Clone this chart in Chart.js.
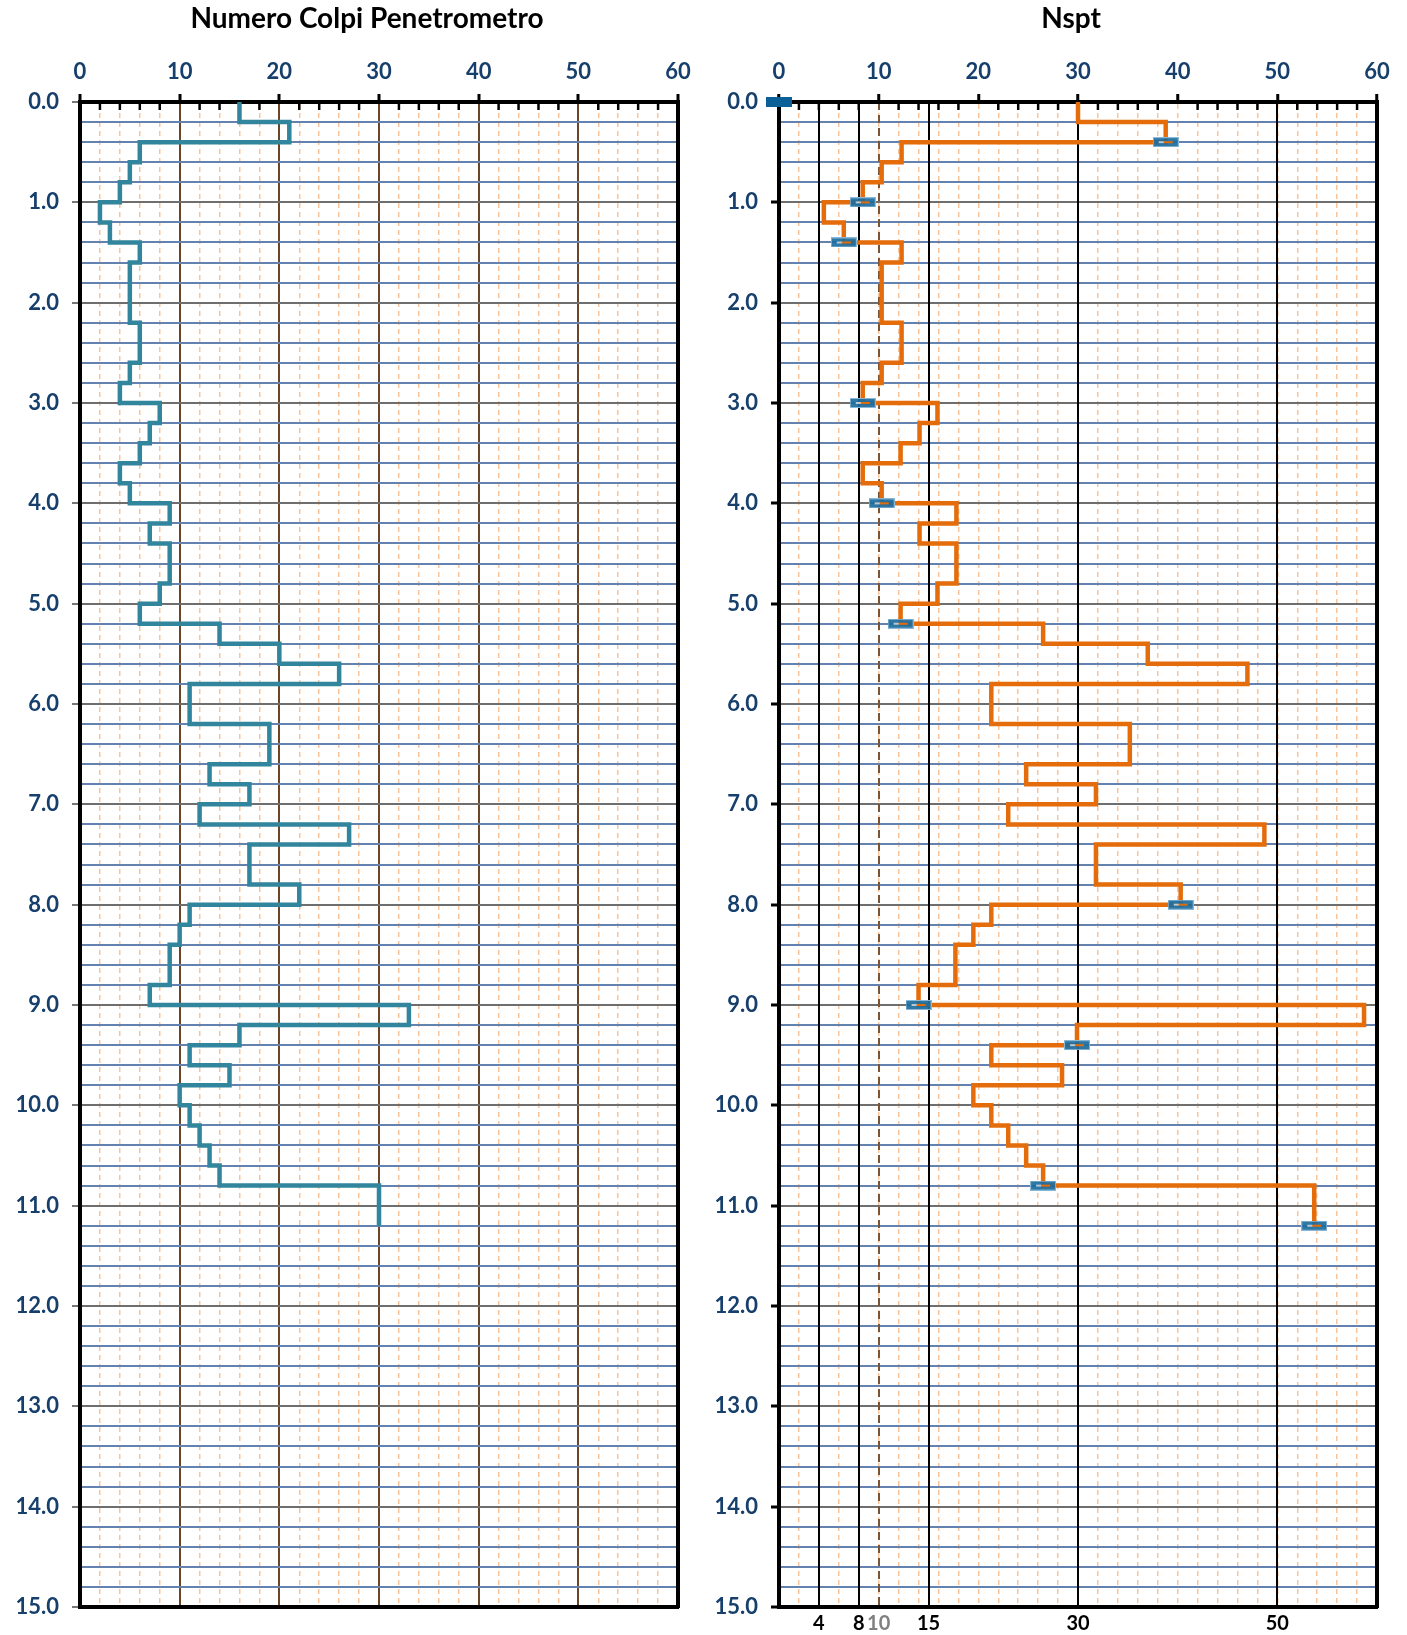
<!DOCTYPE html>
<html>
<head>
<meta charset="utf-8">
<script src="https://cdn.jsdelivr.net/npm/chart.js@4.4.0/dist/chart.umd.min.js"></script>
<style>
  html, body { margin: 0; padding: 0; background: #fff; overflow: hidden; }
  #wrap { position: relative; width: 1407px; height: 1635px; overflow: hidden; }
  #c1 { position: absolute; left: 0; top: 0; }
  #c2 { position: absolute; left: 700px; top: 0; }
</style>
</head>
<body>
<div id="wrap">
  <canvas id="c1" width="734" height="1635"></canvas>
  <canvas id="c2" width="742" height="1635"></canvas>
</div>
<script>
// depth boundaries (m) of each 20 cm reading
const depths = [0.0,0.2,0.4,0.6,0.8,1.0,1.2,1.4,1.6,1.8,2.0,2.2,2.4,2.6,2.8,3.0,3.2,3.4,3.6,3.8,
  4.0,4.2,4.4,4.6,4.8,5.0,5.2,5.4,5.6,5.8,6.0,6.2,6.4,6.6,6.8,7.0,7.2,7.4,7.6,7.8,
  8.0,8.2,8.4,8.6,8.8,9.0,9.2,9.4,9.6,9.8,10.0,10.2,10.4,10.6,10.8,11.0,11.2];

// numero colpi penetrometro per 20 cm
const colpi = [16,21,6,5,4,2,3,6,5,5,5,6,6,5,4,
  8,7,6,4,5,9,7,9,9,8,6,
  14,20,26,11,11,19,19,13,17,12,
  27,17,17,22,11,10,9,9,7,
  33,16,11,15,10,11,12,13,14,30,30];

// Nspt equivalente
const nspt = [30,38.8,12.3,10.3,8.4,4.5,6.5,12.3,10.3,10.3,10.3,12.3,12.3,10.3,8.4,
  15.9,14.1,12.2,8.4,10.3,17.8,14.1,17.8,17.8,15.9,12.2,
  26.5,37.0,47.0,21.3,21.3,35.2,35.2,24.8,31.8,23.0,
  48.7,31.8,31.8,40.3,21.3,19.5,17.7,17.7,14.0,
  58.7,29.9,21.3,28.4,19.5,21.3,23.0,24.8,26.5,53.7,53.7];

// markers on the Nspt profile
const sptDepths = [0.4,1.0,1.4,3.0,4.0,5.2,8.0,9.0,9.4,10.8,11.2];
const sptValues = [38.8,8.4,6.5,8.4,10.3,12.2,40.3,14.0,29.9,26.5,53.7];
const refDepths = [0.0];
const refValues = [0];

// axes
const xTicks = [0,2,4,6,8,10,12,14,16,18,20,22,24,26,28,30,32,34,36,38,40,42,44,46,48,50,52,54,56,58,60];
const depthTicks = Array.from({length: 76}, (_, i) => i / 5);
const nsptLines = [4,8,10,15,30,50];

const FONT = 'Lato';
const NAVY = '#173F6C';
const TITLE_SIZE = 28;
const TITLE_H = TITLE_SIZE * 1.2 + 2;
const CLEAR = 'rgba(0,0,0,0)';
const BOTTOM_H = 28;

function stepPoints(vals) {
  const pts = [];
  vals.forEach((v, i) => {
    pts.push({x: v, y: depths[i]});
    pts.push({x: v, y: depths[i + 1]});
  });
  return pts;
}

function makeMarker(solid) {
  const c = document.createElement('canvas');
  c.width = 26; c.height = 10;
  const g = c.getContext('2d');
  if (solid) {
    g.fillStyle = '#0b6097';
    g.fillRect(0, 0, 26, 10);
  } else {
    g.fillStyle = 'rgba(28,108,158,0.92)';
    g.fillRect(0, 0, 26, 10);
    g.strokeStyle = 'rgba(150,190,220,0.9)';
    g.lineWidth = 1;
    g.strokeRect(0.5, 0.5, 25, 9);
    g.fillStyle = '#b9c7d3';
    g.fillRect(6, 4, 6, 2);
    g.fillStyle = '#e36c0a';
    g.fillRect(11, 4, 9, 2);
  }
  return c;
}

const isMajor = c => c.tick && c.tick.value % 10 === 0;
const isInt = c => c.tick && Number.isInteger(c.tick.value);

function topAxis(majorColor) {
  return {
    type: 'linear', position: 'top', min: 0, max: 60,
    afterBuildTicks: s => { s.ticks = xTicks.map(v => ({value: v})); },
    ticks: {
      autoSkip: false, maxRotation: 0, minRotation: 0, padding: 9,
      color: NAVY, font: {family: FONT, weight: 'bold', size: 22},
      callback: v => v % 10 === 0 ? String(v) : ''
    },
    grid: {
      color: c => (majorColor && isMajor(c)) ? majorColor : '#f9c49a',
      lineWidth: c => (majorColor && isMajor(c)) ? 2 : 1.5,
      tickLength: 8, tickWidth: 3,
      tickColor: c => isMajor(c) ? '#000' : CLEAR
    },
    border: {
      color: '#000', width: 4,
      dash: c => (majorColor && isMajor(c)) ? [] : [5, 4]
    },
    afterFit: s => { s.height = 102 - TITLE_H; }
  };
}

function depthAxis(tickCol, tickW, w) {
  return {
    type: 'linear', position: 'left', min: 0, max: 15, reverse: true,
    afterBuildTicks: s => { s.ticks = depthTicks.map(v => ({value: v})); },
    ticks: {
      autoSkip: false, padding: 13,
      color: NAVY, font: {family: FONT, weight: 'bold', size: 22},
      callback: v => Number.isInteger(v) ? v.toFixed(1) : ''
    },
    grid: {
      color: c => isInt(c) ? '#6e6e6e' : '#6382b0',
      lineWidth: 2,
      tickLength: 8, tickWidth: tickW,
      tickColor: c => isInt(c) ? tickCol : CLEAR
    },
    border: {color: '#000', width: 4},
    afterFit: s => { s.width = w; }
  };
}

function frameRight(w) {
  return {
    type: 'linear', position: 'right', min: 0, max: 15, reverse: true,
    ticks: {display: false}, grid: {display: false, drawTicks: false},
    border: {color: '#000', width: 4},
    afterFit: s => { s.width = w; }
  };
}

const innerTicks = {
  id: 'innerTicks',
  beforeDatasetsDraw(chart) {
    const s = chart.scales.x;
    const ctx = chart.ctx;
    const top = chart.chartArea.top;
    ctx.save();
    ctx.strokeStyle = '#000';
    ctx.lineWidth = 2.5;
    xTicks.forEach(v => {
      if (v % 10 === 0) return;
      const px = s.getPixelForValue(v);
      ctx.beginPath();
      ctx.moveTo(px, top);
      ctx.lineTo(px, top + 8);
      ctx.stroke();
    });
    ctx.restore();
  }
};

function titleOpts(text) {
  return {
    display: true, text: text, fullSize: true,
    color: '#000', font: {family: FONT, weight: 'bold', size: TITLE_SIZE},
    padding: {top: 2, bottom: 0}
  };
}

// left chart: numero colpi
new Chart(document.getElementById('c1'), {
  type: 'scatter',
  data: {
    datasets: [{
      data: stepPoints(colpi),
      showLine: true, pointRadius: 0,
      borderColor: '#31859c', borderWidth: 4.5,
      borderJoinStyle: 'miter', tension: 0,
      xAxisID: 'x', yAxisID: 'y'
    }]
  },
  options: {
    responsive: false, animation: false, events: [],
    layout: {padding: 0},
    plugins: {legend: {display: false}, tooltip: {enabled: false}, title: titleOpts('Numero Colpi Penetrometro')},
    scales: {
      x: topAxis('#6b4626'),
      y: depthAxis('#777', 2, 80),
      yR: frameRight(56),
      xB: {
        type: 'linear', position: 'bottom', min: 0, max: 60,
        ticks: {display: false}, grid: {display: false, drawTicks: false},
        border: {color: '#000', width: 4},
        afterFit: s => { s.height = BOTTOM_H; }
      }
    }
  },
  plugins: [innerTicks]
});

// right chart: Nspt
new Chart(document.getElementById('c2'), {
  type: 'scatter',
  data: {
    datasets: [{
      data: refValues.map((v, i) => ({x: v, y: refDepths[i]})),
      pointStyle: makeMarker(true), clip: false,
      xAxisID: 'x', yAxisID: 'y'
    }, {
      data: sptValues.map((v, i) => ({x: v, y: sptDepths[i]})),
      pointStyle: makeMarker(false), clip: false,
      xAxisID: 'x', yAxisID: 'y'
    }, {
      data: stepPoints(nspt),
      showLine: true, pointRadius: 0,
      borderColor: '#e46c0a', borderWidth: 4.5,
      borderJoinStyle: 'miter', tension: 0,
      xAxisID: 'x', yAxisID: 'y'
    }]
  },
  options: {
    responsive: false, animation: false, events: [],
    layout: {padding: 0},
    plugins: {legend: {display: false}, tooltip: {enabled: false}, title: titleOpts('Nspt')},
    scales: {
      x: topAxis(null),
      y: depthAxis('#000', 3, 79),
      yR: frameRight(65),
      x2: {
        type: 'linear', position: 'bottom', min: 0, max: 60,
        afterBuildTicks: s => { s.ticks = nsptLines.map(v => ({value: v})); },
        ticks: {
          autoSkip: false, maxRotation: 0, minRotation: 0, padding: 5,
          color: c => (c.tick && c.tick.value === 10) ? '#808080' : '#000',
          font: {family: FONT, weight: 'bold', size: 20},
          callback: v => String(v)
        },
        grid: {
          color: c => (c.tick && c.tick.value === 10) ? '#7a5434' : '#000',
          lineWidth: 2, drawTicks: false
        },
        border: {
          color: '#000', width: 4,
          dash: c => (c.tick && c.tick.value === 10) ? [8, 5] : []
        },
        afterFit: s => { s.height = BOTTOM_H; }
      }
    }
  },
  plugins: [innerTicks]
});
</script>
</body>
</html>
